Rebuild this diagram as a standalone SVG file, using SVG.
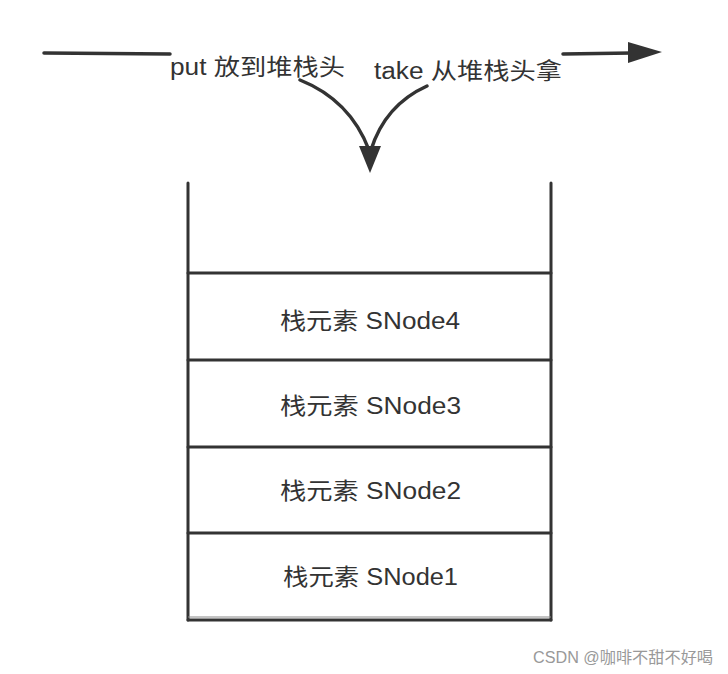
<svg xmlns="http://www.w3.org/2000/svg" width="728" height="674" viewBox="0 0 728 674">
<style>
.t{font-family:"Liberation Sans","Noto Sans CJK SC",sans-serif;font-size:23px;fill:#333}
.w{stroke:#333;stroke-width:3;fill:none;stroke-linecap:round}
.c{stroke:#333;stroke-width:3.5;fill:none;stroke-linecap:round}
.wm{font-family:"Liberation Sans","Noto Sans CJK SC",sans-serif;font-size:16px;fill:#999}
</style>
<rect width="728" height="674" fill="#fff"/>
<g id="connectors">
<line class="c" x1="44" y1="53" x2="170" y2="54"/>
<path class="c" d="M300,80 Q350,100 369,150" />
<path class="c" d="M427,86 Q385,105 371,150" />
<polygon points="359,146 381,146 370,173" fill="#333"/>
<line class="c" x1="563" y1="54" x2="632" y2="53"/>
<polygon points="628,42 662,52 628,63" fill="#333"/>
</g>
<g id="put-label">
<text class="t" x="170" y="75" textLength="175" lengthAdjust="spacingAndGlyphs">put 放到堆栈头</text>
</g>
<g id="take-label">
<text class="t" x="374" y="79" textLength="188" lengthAdjust="spacingAndGlyphs">take 从堆栈头拿</text>
</g>
<g id="stack">
<line class="w" x1="188" y1="183" x2="188" y2="620"/>
<line class="w" x1="551" y1="183" x2="551" y2="620"/>
<line class="w" x1="188" y1="273" x2="551" y2="273"/>
<line class="w" x1="188" y1="620" x2="551" y2="620"/>
<line stroke="#888" stroke-width="1" x1="188" y1="617" x2="551" y2="617"/>
</g>
<g id="node4">
<text class="t" x="280" y="329" textLength="180" lengthAdjust="spacingAndGlyphs">栈元素 SNode4</text>
</g>
<g id="node3">
<line class="w" x1="188" y1="360" x2="551" y2="360"/>
<text class="t" x="280" y="414" textLength="181" lengthAdjust="spacingAndGlyphs">栈元素 SNode3</text>
</g>
<g id="node2">
<line class="w" x1="188" y1="447" x2="551" y2="447"/>
<text class="t" x="280" y="499" textLength="181" lengthAdjust="spacingAndGlyphs">栈元素 SNode2</text>
</g>
<g id="node1">
<line class="w" x1="188" y1="533" x2="551" y2="533"/>
<text class="t" x="283" y="585" textLength="175" lengthAdjust="spacingAndGlyphs">栈元素 SNode1</text>
</g>
<text class="wm" x="533" y="663" textLength="180" lengthAdjust="spacingAndGlyphs">CSDN @咖啡不甜不好喝</text>
</svg>
